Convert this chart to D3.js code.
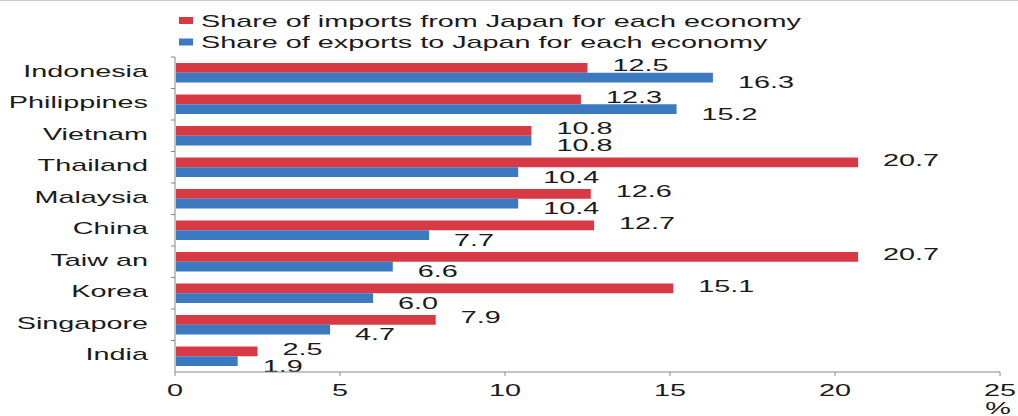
<!DOCTYPE html>
<html>
<head>
<meta charset="utf-8">
<script src="https://cdn.jsdelivr.net/npm/d3@7"></script>
<style>
  body { margin: 0; background: #fff; }
  svg { display: block; }
  text { font-family: "Liberation Sans", Arial, sans-serif; fill: #1a1a1a; }
</style>
</head>
<body>
<div id="chart"></div>
<script>
// Data
const economies = ["Indonesia", "Philippines", "Vietnam", "Thailand", "Malaysia", "China", "Taiw an", "Korea", "Singapore", "India"];
const importsShare = [12.5, 12.3, 10.8, 20.7, 12.6, 12.7, 20.7, 15.1, 7.9, 2.5];
const exportsShare = [16.3, 15.2, 10.8, 10.4, 10.4, 7.7, 6.6, 6.0, 4.7, 1.9];
const seriesNames = ["Share of imports from Japan for each economy", "Share of exports to Japan for each economy"];
const xTicks = [0, 5, 10, 15, 20, 25];

const colors = ["#d73a44", "#3b79c1"];
const width = 1018, height = 416;
const margin = {top: 57, right: 18, bottom: 44, left: 175};
const sx = 1.8; // the source image is stretched horizontally

const svg = d3.select("#chart").append("svg")
    .attr("width", width)
    .attr("height", height);

// faint frame line at the top
svg.append("line")
    .attr("x1", 0).attr("x2", width)
    .attr("y1", 0.5).attr("y2", 0.5)
    .attr("stroke", "#ccc");

// helper: stretched text
function stext(g, x, y, str, anchor) {
    return g.append("text")
        .attr("transform", `translate(${x},${y}) scale(${sx},1)`)
        .attr("text-anchor", anchor || "start")
        .style("font-size", "16px")
        .text(str);
}

// Scales
const x = d3.scaleLinear()
    .domain([0, 25])
    .range([margin.left, width - margin.right]);

const y = d3.scaleBand()
    .domain(economies)
    .range([margin.top, height - margin.bottom]);

const ySub = d3.scaleBand()
    .domain([0, 1])
    .range([6, 25.5]);

const rows = economies.map((name, i) => ({name, values: [importsShare[i], exportsShare[i]]}));

// Bars
const groups = svg.append("g")
    .selectAll("g")
    .data(rows)
    .join("g")
    .attr("transform", d => `translate(0,${y(d.name)})`);

groups.selectAll("rect")
    .data(d => d.values.map((v, k) => ({v, k})))
    .join("rect")
    .attr("x", x(0) + 1)
    .attr("y", d => ySub(d.k))
    .attr("width", d => x(d.v) - x(0) - 1)
    .attr("height", ySub.bandwidth())
    .attr("fill", d => colors[d.k]);

// Value labels (red one nudged up, blue one nudged down)
groups.each(function(d) {
    const g = d3.select(this);
    d.values.forEach((v, k) => {
        const cy = ySub(k) + ySub.bandwidth() / 2 + (k === 0 ? -2 : 5);
        stext(g, x(v) + 25, cy + 5.5, v.toFixed(1));
    });
});

// Y axis
const yAxis = svg.append("g");
yAxis.append("line")
    .attr("x1", x(0)).attr("x2", x(0))
    .attr("y1", y.range()[0]).attr("y2", y.range()[1])
    .attr("stroke", "#888");
yAxis.selectAll(".ytick")
    .data(economies)
    .join("line")
    .attr("class", "ytick")
    .attr("x1", x(0) - 4).attr("x2", x(0))
    .attr("y1", d => y(d)).attr("y2", d => y(d))
    .attr("stroke", "#888");
economies.forEach(name => {
    stext(yAxis, 148, y(name) + y.bandwidth() / 2 + 4, name, "end");
});

// X axis
const xAxis = svg.append("g");
const axisY = y.range()[1];
xAxis.append("line")
    .attr("x1", x(0)).attr("x2", x(25))
    .attr("y1", axisY).attr("y2", axisY)
    .attr("stroke", "#888");
xAxis.selectAll(".xtick")
    .data(xTicks)
    .join("line")
    .attr("class", "xtick")
    .attr("x1", d => x(d)).attr("x2", d => x(d))
    .attr("y1", axisY).attr("y2", axisY + 4)
    .attr("stroke", "#888");
xTicks.forEach(t => {
    stext(xAxis, x(t), axisY + 24, String(t), "middle");
});
stext(xAxis, x(25) - 2, axisY + 42, "%", "middle");

// Legend
const legend = svg.append("g");
seriesNames.forEach((name, k) => {
    const ly = 20.5 + k * 21.5;
    legend.append("rect")
        .attr("x", 179).attr("y", ly - 3.5)
        .attr("width", 14).attr("height", 7)
        .attr("fill", colors[k]);
    stext(legend, 201, ly + 6, name);
});
</script>
</body>
</html>
